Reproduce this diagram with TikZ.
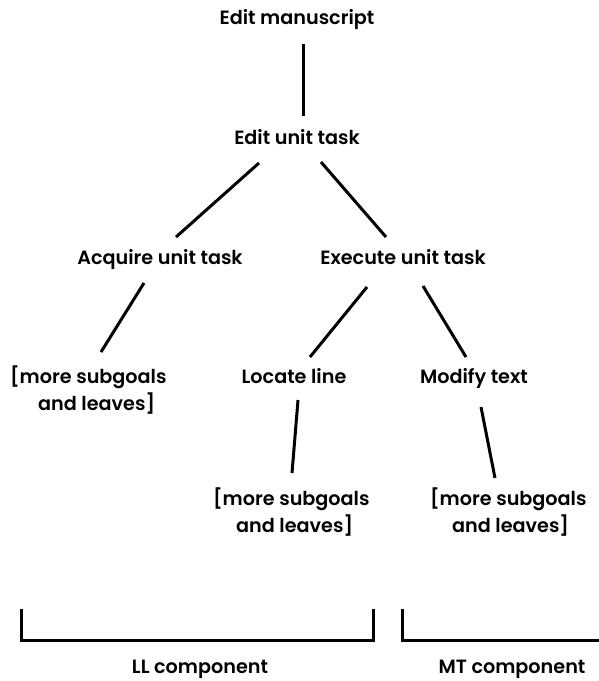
\documentclass[tikz,border=0pt]{standalone}
\usepackage{fontspec}
\setmainfont{Poppins SemiBold}
\begin{document}
\begin{tikzpicture}[x=1pt,y=-1pt,
  lbl/.style={inner sep=0pt,text height=17pt,text depth=4pt,font=\fontsize{19.2}{27}\selectfont},
  more/.style={inner sep=0pt,align=left,anchor=west,font=\fontsize{19.2}{27}\selectfont},
  conn/.style={line width=3pt},
  brk/.style={line width=3pt}]
\useasboundingbox (0,0) rectangle (599,681);
\node[lbl] (em)  at (297,18)  {Edit manuscript};
\node[lbl] (eut) at (297,138) {Edit unit task};
\node[lbl] (aut) at (160,258) {Acquire unit task};
\node[lbl] (xut) at (403,258) {Execute unit task};
\node[lbl] (loc) at (294,377) {Locate line};
\node[lbl] (mod) at (474,377) {Modify text};
\node[more] (m1) at (10,390)  {[more subgoals\\\hspace*{28pt}and leaves]};
\node[more] (m2) at (213,512) {[more subgoals\\\hspace*{23pt}and leaves]};
\node[more] (m3) at (430,512) {[more subgoals\\\hspace*{22pt}and leaves]};
\node[lbl] (ll) at (200,667) {LL component};
\node[lbl] (mt) at (512,667) {MT component};
\draw[conn] ([shift={(6,26)}]em.center) -- ([shift={(6,-22)}]eut.center);
\draw[conn] ([shift={(-38,25)}]eut.center) -- ([shift={(16,-21)}]aut.center);
\draw[conn] ([shift={(24,24)}]eut.center) -- ([shift={(-17,-21)}]xut.center);
\draw[conn] ([shift={(-16,25)}]aut.center) -- ([shift={(91,-38)}]m1.west);
\draw[conn] ([shift={(-36,29)}]xut.center) -- ([shift={(16,-20)}]loc.center);
\draw[conn] ([shift={(20,28)}]xut.center) -- ([shift={(-8,-20)}]mod.center);
\draw[conn] ([shift={(4,23)}]loc.center) -- ([shift={(79,-39)}]m2.west);
\draw[conn] ([shift={(7,30)}]mod.center) -- ([shift={(65,-34)}]m3.west);
\draw[brk] (21,609) -- (21,640) -- (373,640) -- (373,609);
\draw[brk] (402,609) -- (402,640) -- (599,640);
\end{tikzpicture}
\end{document}
